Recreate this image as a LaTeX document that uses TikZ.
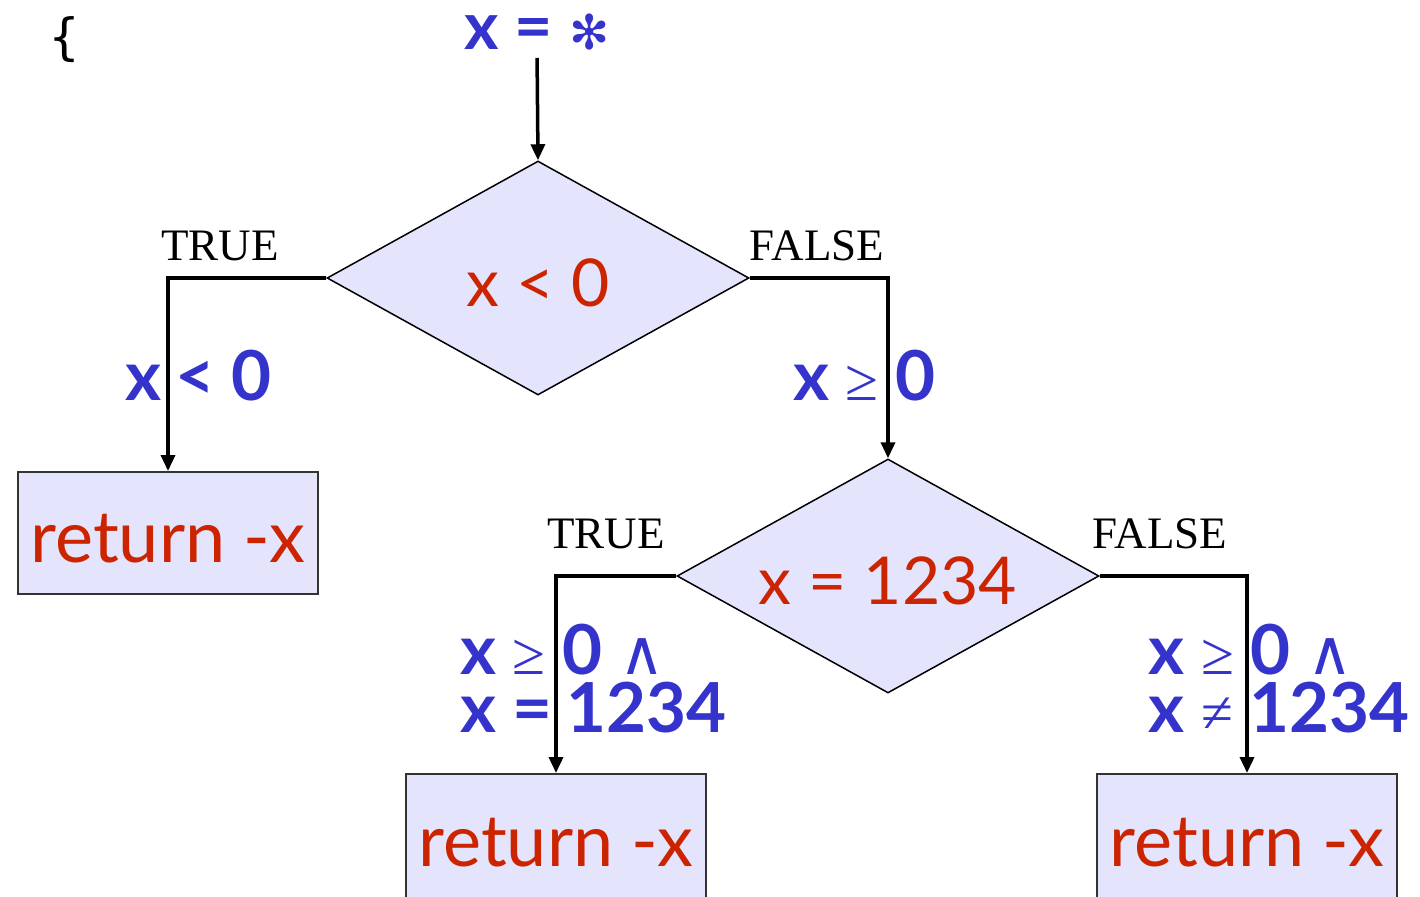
\documentclass[tikz,border=0pt]{standalone}
\usepackage{fontspec}
\setmainfont{Lato}
\newfontfamily\opfont{Liberation Serif}
\newfontfamily\symfont{DejaVu Sans}
\newfontfamily\bracefont{DejaVu Sans Mono}
\usetikzlibrary{arrows.meta,shapes.geometric}
\definecolor{cb}{HTML}{3434CC}
\definecolor{cr}{HTML}{CC2400}
\definecolor{cf}{HTML}{E4E4FC}
\newcommand{\geqs}{{\opfont\mdseries\fontsize{60}{60}\selectfont ≥}}
\newcommand{\neqs}{{\opfont\mdseries\fontsize{58}{60}\selectfont ≠}}
\newcommand{\wedges}{{\symfont\mdseries\fontsize{62}{60}\selectfont ∧}}

\begin{document}
\begin{tikzpicture}[x=1pt,y=-1pt,
  flow/.style={line width=3.5pt,-{Triangle[length=16pt,width=14pt]}},
  test/.style={diamond,draw,line width=1.5pt,fill=cf,aspect=1.8,inner sep=0pt,
    minimum width=422pt,minimum height=234pt,text height=57pt,text depth=0pt,
    text=cr,font=\fontsize{66}{72}\selectfont},
  ret/.style={rectangle,draw=black!80,line width=2pt,fill=cf,minimum width=300pt,
    text height=58pt,text depth=0pt,inner sep=0pt,text=cr,font=\fontsize{72}{80}\selectfont},
  cond/.style={anchor=base west,inner sep=0pt,text=cb,font=\bfseries\fontsize{69}{72}\selectfont},
  tf/.style={inner sep=0pt,font=\opfont\fontsize{45}{50}\selectfont}]
\useasboundingbox (0,0) rectangle (1420,896);
% start
\node[font=\bracefont\fontsize{50}{60}\selectfont,inner sep=0pt] (brace) at (65,40) {\char"7B};
\node[anchor=base,inner sep=0pt,text=cb,font=\bfseries\fontsize{66}{72}\selectfont] (init) at (537,50)
  {x = {\symfont\mdseries\fontsize{48}{50}\selectfont ✻}};
% tests and returns
\node[test] (t1) at (538,278) {x < 0};
\node[test] (t2) at (888,576) {x = 1234};
\node[ret,minimum height=122pt] (r1) at (168,533) {return -x};
\node[ret,minimum height=126pt] (r2) at (556,837) {return -x};
\node[ret,minimum height=126pt] (r3) at (1247,837) {return -x};
% connectors
\draw[flow,shorten <=7pt] (init.south) -- (t1.north);
\draw[flow] (t1.west) -| (r1.north);
\draw[flow] (t1.east) -| (t2.north);
\draw[flow] (t2.west) -| (r2.north);
\draw[flow] (t2.east) -| (r3.north);
% branch labels
\node[tf] (true1) at (220,246) {TRUE};
\node[tf] (false1) at (817,246) {FALSE};
\node[tf] (true2) at (606,534) {TRUE};
\node[tf] (false2) at (1160,534) {FALSE};
% path conditions
\node[cond] (c1) at (125,400) {x\hspace{14pt}<\hspace{16pt}0};
\node[cond] (c2) at (793,400) {x \geqs\ 0};
\node[cond] (c3a) at (460,674) {x \geqs\ 0 \wedges};
\node[cond] (c3b) at (460,732) {x = \hspace{-3pt}1234};
\node[cond] (c4a) at (1148,674) {x \geqs\ 0 \wedges};
\node[cond] (c4b) at (1148,732) {x \neqs\ 1234};
\end{tikzpicture}
\end{document}
